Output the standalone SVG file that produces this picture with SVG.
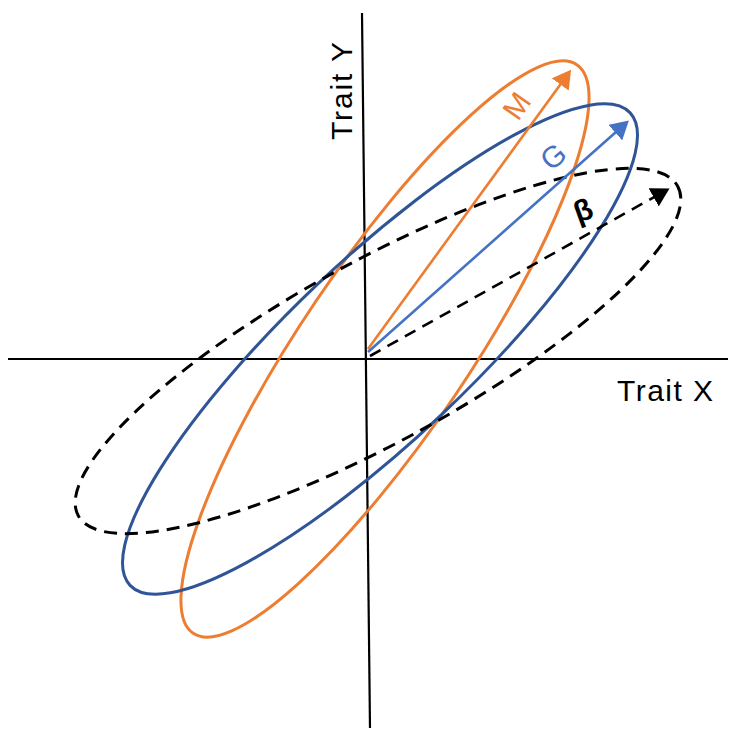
<svg xmlns="http://www.w3.org/2000/svg" width="731" height="730" viewBox="0 0 731 730">
<style>
.ax{stroke:#000;stroke-width:2.2;fill:none}
.ell{fill:none;stroke-width:3}
.arr{stroke-width:2.6;fill:none}
.lbl{font-family:"Liberation Sans","Open Sans",sans-serif;font-size:30px}
</style>
<defs>
<marker id="mo" markerWidth="8" markerHeight="8" refX="5" refY="4" orient="auto" markerUnits="strokeWidth"><path d="M0,0 L7,4 L0,8 z" fill="#ED7D31"/></marker>
<marker id="mb" markerWidth="8" markerHeight="8" refX="5" refY="4" orient="auto" markerUnits="strokeWidth"><path d="M0,0 L7,4 L0,8 z" fill="#4472C4"/></marker>
<marker id="mk" markerWidth="8" markerHeight="8" refX="5" refY="4" orient="auto" markerUnits="strokeWidth"><path d="M0,0 L7,4 L0,8 z" fill="#000"/></marker>
</defs>
<g id="axes">
<line class="ax" x1="362" y1="13" x2="370" y2="728"/>
<line class="ax" x1="8" y1="359" x2="728" y2="359"/>
</g>
<g id="ellipse-M"><ellipse class="ell" stroke="#ED7D31" cx="385" cy="349" rx="343" ry="84" transform="rotate(-56 385 349)"/></g>
<g id="ellipse-G"><ellipse class="ell" stroke="#2F5597" cx="380" cy="349" rx="344" ry="90" transform="rotate(-43.4 380 349)"/></g>
<g id="ellipse-beta"><ellipse class="ell" stroke="#000" stroke-dasharray="13 8" cx="378" cy="351" rx="342" ry="90" transform="rotate(-28.8 378 351)"/></g>
<g id="connectors">
<line class="arr" stroke="#ED7D31" x1="368" y1="349" x2="568" y2="74" marker-end="url(#mo)"/>
<line class="arr" stroke="#4472C4" x1="368" y1="352" x2="625" y2="124" marker-end="url(#mb)"/>
<line class="arr" stroke="#000" stroke-dasharray="12 8" x1="370" y1="356" x2="665" y2="191" marker-end="url(#mk)"/>
</g>
<g id="labels">
<text class="lbl" fill="#000" textLength="98" transform="translate(352 140) rotate(-90)">Trait Y</text>
<text class="lbl" fill="#000" textLength="96" x="617" y="401">Trait X</text>
<text class="lbl" fill="#ED7D31" transform="translate(518 122) rotate(-55)">M</text>
<text class="lbl" fill="#4472C4" transform="translate(551 172) rotate(-40)">G</text>
<text class="lbl" fill="#000" font-weight="bold" transform="translate(578 223) rotate(-20)">β</text>
</g>
</svg>
